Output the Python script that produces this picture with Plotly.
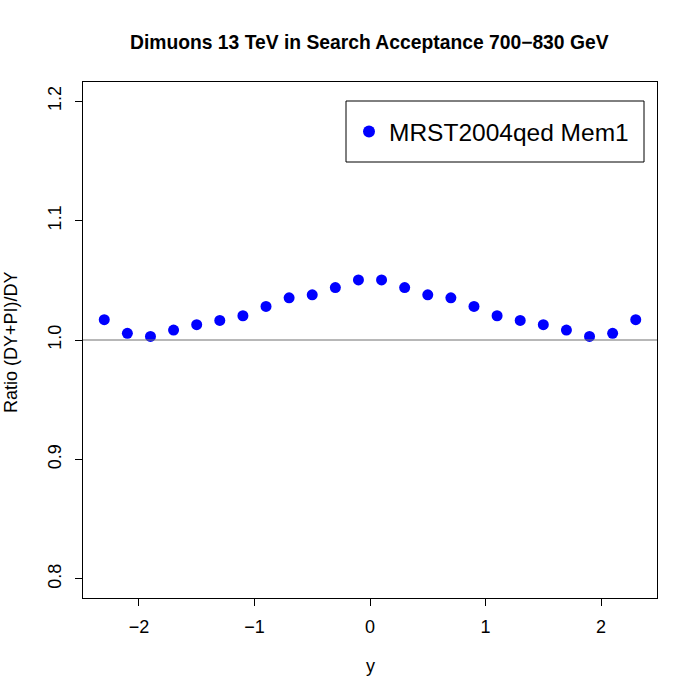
import plotly.graph_objects as go

rapidity = [-2.3, -2.1, -1.9, -1.7, -1.5, -1.3, -1.1, -0.9, -0.7, -0.5, -0.3, -0.1,
            0.1, 0.3, 0.5, 0.7, 0.9, 1.1, 1.3, 1.5, 1.7, 1.9, 2.1, 2.3]
ratio = [1.0170, 1.0056, 1.0030, 1.0083, 1.0128, 1.0164, 1.0203, 1.0281, 1.0353, 1.0378, 1.0439, 1.0503,
         1.0503, 1.0439, 1.0378, 1.0353, 1.0281, 1.0203, 1.0164, 1.0128, 1.0083, 1.0030, 1.0056, 1.0170]
series_name = "MRST2004qed Mem1"
x_ticks = [-2, -1, 0, 1, 2]
x_ticklabels = ["\u22122", "\u22121", "0", "1", "2"]
y_ticks = [0.8, 0.9, 1.0, 1.1, 1.2]
y_ticklabels = ["0.8", "0.9", "1.0", "1.1", "1.2"]
title = "Dimuons 13 TeV in Search Acceptance 700\u2212830 GeV"
x_title = "y"
y_title = "Ratio (DY+PI)/DY"

FONT = "Liberation Sans, Arial, Helvetica, sans-serif"

W, H = 700, 700
ML, MR, MT, MB = 83, 43, 82, 102
pw, ph = W - ML - MR, H - MT - MB
def px(xp): return (xp - ML) / pw
def py(yp): return (H - MB - yp) / ph

fig = go.Figure()
fig.add_trace(go.Scatter(x=rapidity, y=ratio, mode="markers", name=series_name,
                         marker=dict(color="#0000FF", size=11, line=dict(width=0))))

fig.add_hline(y=1.0, line=dict(color="#707070", width=1))

# legend frame
fig.add_shape(type="rect", xref="paper", yref="paper",
              x0=px(346), x1=px(644), y0=py(162), y1=py(101),
              line=dict(color="black", width=1), fillcolor="rgba(0,0,0,0)", layer="above")

fig.update_layout(
    width=W, height=H,
    margin=dict(l=ML, r=MR, t=MT, b=MB),
    paper_bgcolor="white", plot_bgcolor="white",
    font=dict(family=FONT, color="black"),
    showlegend=True,
    legend=dict(x=px(349), y=py(131.5), xanchor="left", yanchor="middle",
                borderwidth=0, bgcolor="rgba(0,0,0,0)",
                font=dict(size=24.5, family=FONT), itemsizing="constant"),
    xaxis=dict(range=[-2.484, 2.484], tickvals=x_ticks, ticktext=x_ticklabels,
               ticks="outside", ticklen=7, tickwidth=1, tickcolor="black",
               showgrid=False, zeroline=False, showline=True, linecolor="black",
               mirror=True, tickfont=dict(size=18), ticklabelstandoff=5),
    yaxis=dict(range=[0.784, 1.216], tickvals=y_ticks, ticktext=y_ticklabels,
               ticks="outside", ticklen=7, tickwidth=1, tickcolor="black",
               showgrid=False, zeroline=False, showline=True, linecolor="black",
               mirror=True, tickfont=dict(size=18), tickangle=-90, ticklabelstandoff=7),
)

fig.add_annotation(text="<b>" + title + "</b>", x=px(369), y=py(42), xref="paper", yref="paper",
                   showarrow=False, font=dict(size=19.3), xanchor="center", yanchor="middle")
fig.add_annotation(text=x_title, x=px(370), y=py(666), xref="paper", yref="paper",
                   showarrow=False, font=dict(size=18), xanchor="center", yanchor="middle")
fig.add_annotation(text=y_title, x=px(11), y=py(342), xref="paper", yref="paper",
                   showarrow=False, font=dict(size=18), textangle=-90,
                   xanchor="center", yanchor="middle")

fig.write_html("out.html", config={"displayModeBar": False},
               post_script="document.body.style.margin='0px';")
